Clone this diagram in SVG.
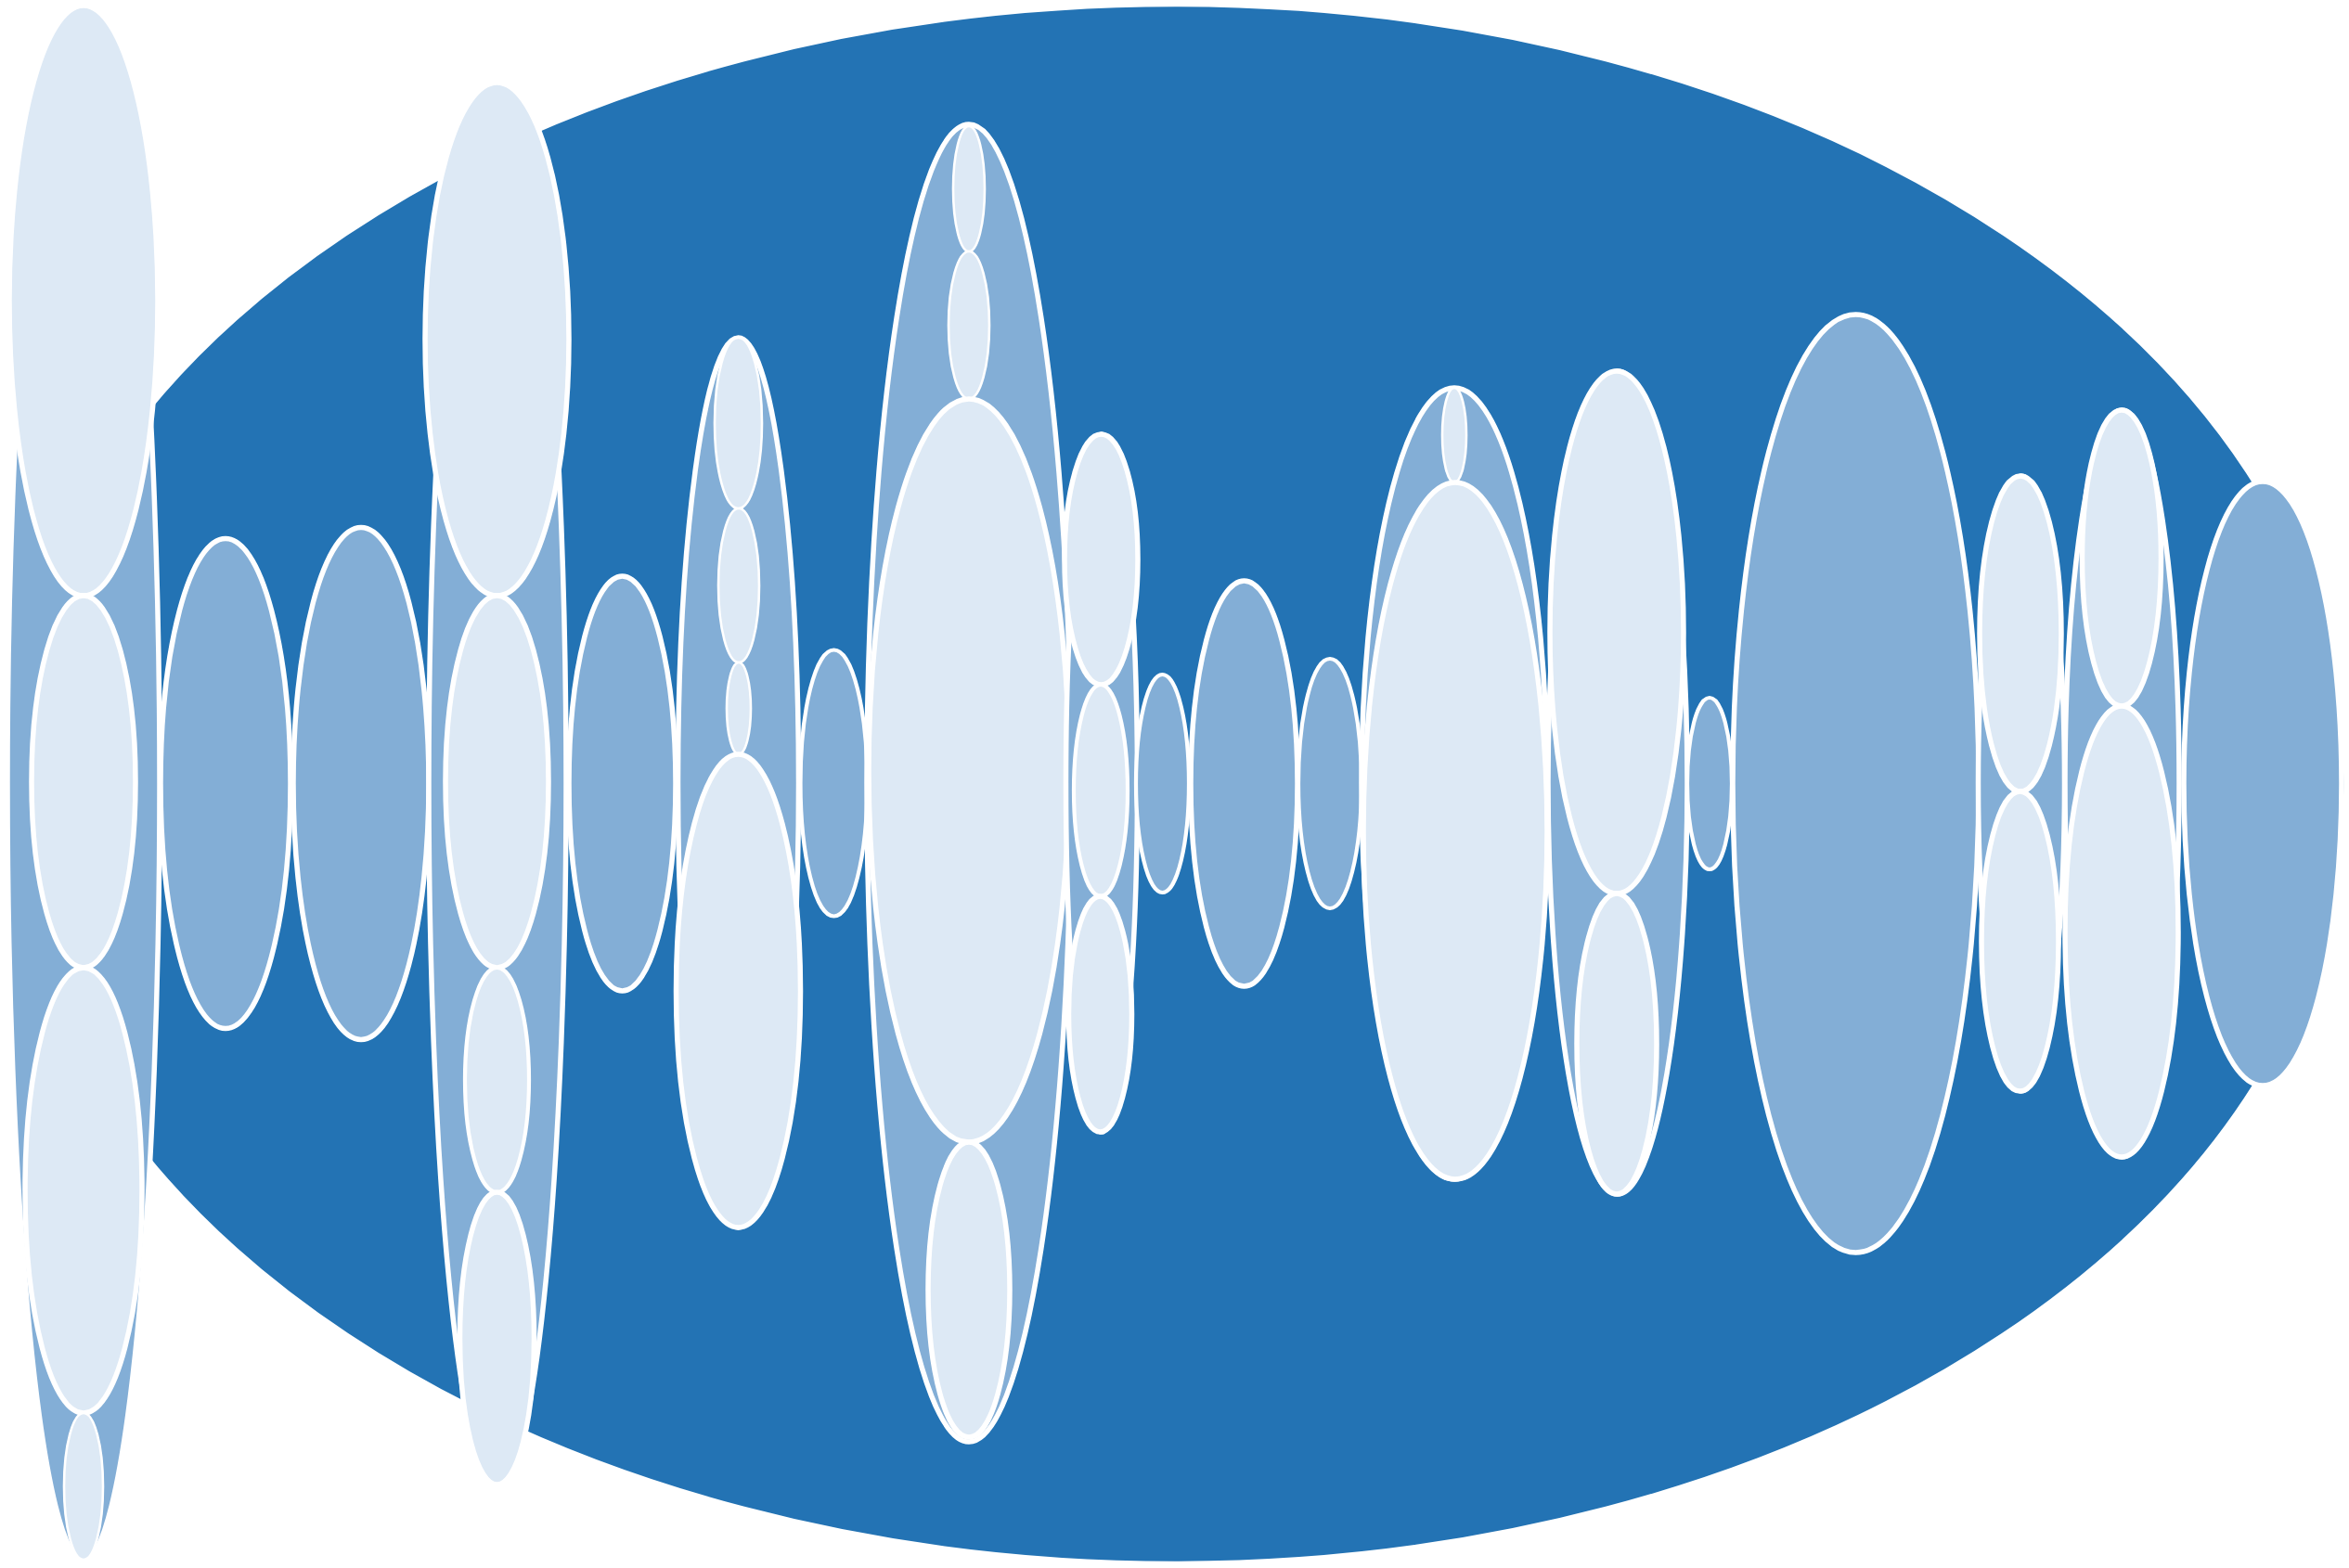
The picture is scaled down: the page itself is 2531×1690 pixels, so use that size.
<svg xmlns="http://www.w3.org/2000/svg" width="2531" height="1690" viewBox="0 0 2531 1690">
<style>
.bg{fill:#2373b4;stroke:#fff;stroke-width:5.5}
.l1{fill:#83aed6;stroke:#fff}
.l2{fill:#dde9f5;stroke:#fff}
.w2{stroke-width:2.6}
.w3{stroke-width:4.2}
.w4{stroke-width:5.5}
</style>
<rect width="2531" height="1690" fill="#fff"/>
<g id="root"><ellipse class="bg" cx="1266" cy="845" rx="1262" ry="840.5"/></g>
<g id="nodeA">
<ellipse class="l1 w4" cx="90" cy="844" rx="82" ry="838"/>
<ellipse class="l2 w4" cx="90" cy="324" rx="80" ry="318"/>
<ellipse class="l2 w4" cx="90" cy="842.5" rx="56" ry="200.5"/>
<ellipse class="l2 w4" cx="90" cy="1283" rx="63" ry="240"/>
<ellipse class="l2 w2" cx="90" cy="1602" rx="21" ry="79"/>
</g>
<g id="nodeB"><ellipse class="l1 w4" cx="243" cy="844.5" rx="70" ry="264"/></g>
<g id="nodeC"><ellipse class="l1 w4" cx="389" cy="844.5" rx="73" ry="276"/></g>
<g id="nodeD">
<ellipse class="l1 w4" cx="536" cy="844.5" rx="74" ry="755.5"/>
<ellipse class="l2 w4" cx="535.5" cy="365.5" rx="77.5" ry="276.5"/>
<ellipse class="l2 w4" cx="535.5" cy="842.5" rx="55.5" ry="200.5"/>
<ellipse class="l2 w3" cx="535.5" cy="1164" rx="34.5" ry="121"/>
<ellipse class="l2 w4" cx="535.5" cy="1442.5" rx="40" ry="157.5"/>
</g>
<g id="nodeE"><ellipse class="l1 w4" cx="670.5" cy="844.5" rx="57.5" ry="223.5"/></g>
<g id="nodeF">
<ellipse class="l1 w4" cx="795.5" cy="843.5" rx="65" ry="479.5"/>
<ellipse class="l2 w2" cx="795.5" cy="456" rx="25.5" ry="92"/>
<ellipse class="l2 w2" cx="796" cy="631" rx="22" ry="83"/>
<ellipse class="l2 w2" cx="796" cy="763.5" rx="13" ry="49.5"/>
<ellipse class="l2 w4" cx="795.5" cy="1068" rx="67" ry="255"/>
</g>
<g id="nodeG"><ellipse class="l1 w3" cx="898.5" cy="844" rx="36" ry="143.5"/></g>
<g id="nodeH">
<ellipse class="l1 w4" cx="1044" cy="844" rx="110" ry="710"/>
<ellipse class="l2 w2" cx="1044" cy="203.5" rx="17" ry="67.5"/>
<ellipse class="l2 w2" cx="1044" cy="350.5" rx="22" ry="79.5"/>
<ellipse class="l2 w4" cx="1044" cy="830.5" rx="108" ry="400.5"/>
<ellipse class="l2 w4" cx="1044" cy="1390" rx="44" ry="159"/>
</g>
<g id="nodeI">
<ellipse class="l1 w4" cx="1187" cy="844" rx="38.5" ry="376"/>
<ellipse class="l2 w4" cx="1186.5" cy="603" rx="39.5" ry="135"/>
<ellipse class="l2 w3" cx="1186" cy="852" rx="29" ry="114"/>
<ellipse class="l2 w4" cx="1185.5" cy="1093" rx="34" ry="127"/>
</g>
<g id="nodeJ"><ellipse class="l1 w3" cx="1252.5" cy="844.5" rx="28.5" ry="117.5"/></g>
<g id="nodeK"><ellipse class="l1 w4" cx="1340.5" cy="844.5" rx="57.5" ry="218.5"/></g>
<g id="nodeL"><ellipse class="l1 w3" cx="1433" cy="844.5" rx="34" ry="134.5"/></g>
<g id="nodeM">
<ellipse class="l1 w4" cx="1567" cy="844.5" rx="100" ry="426.5"/>
<ellipse class="l2 w2" cx="1567" cy="469" rx="13" ry="51"/>
<ellipse class="l2 w4" cx="1568" cy="895.5" rx="99" ry="375.5"/>
</g>
<g id="nodeN">
<ellipse class="l1 w4" cx="1743" cy="843.5" rx="75" ry="443.5"/>
<ellipse class="l2 w4" cx="1742" cy="681.5" rx="72" ry="281.5"/>
<ellipse class="l2 w4" cx="1742" cy="1125" rx="43" ry="162"/>
</g>
<g id="nodeO"><ellipse class="l1 w3" cx="1842" cy="844.5" rx="24" ry="92.5"/></g>
<g id="nodeP"><ellipse class="l1 w4" cx="1999.5" cy="844.5" rx="132.5" ry="505.5"/></g>
<g id="nodeQ">
<ellipse class="l1 w4" cx="2178" cy="844.5" rx="46.5" ry="331.5"/>
<ellipse class="l2 w4" cx="2177" cy="683" rx="44" ry="170"/>
<ellipse class="l2 w4" cx="2176.5" cy="1014.5" rx="41.5" ry="161.5"/>
</g>
<g id="nodeR">
<ellipse class="l1 w4" cx="2286.5" cy="844.5" rx="61.5" ry="402.5"/>
<ellipse class="l2 w4" cx="2286" cy="601.5" rx="42.5" ry="159.5"/>
<ellipse class="l2 w4" cx="2286" cy="1004" rx="61" ry="243"/>
</g>
<g id="nodeS"><ellipse class="l1 w4" cx="2438" cy="844.5" rx="85" ry="325.5"/></g>
<g id="connectors"/>
</svg>
